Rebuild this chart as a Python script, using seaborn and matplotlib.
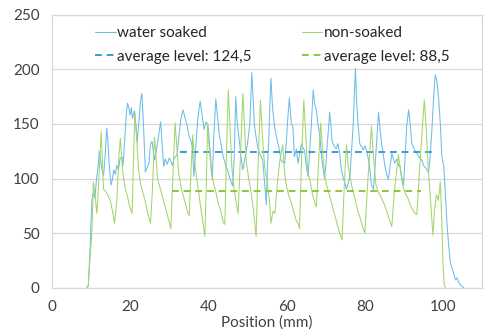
import numpy as np
import pandas as pd
import seaborn as sns
import matplotlib.pyplot as plt
from matplotlib.ticker import MultipleLocator

# ---------------------------------------------------------------------------- #
#                                   Data                                       #
# ---------------------------------------------------------------------------- #
water_pos = [8.8, 9.3, 9.8, 10.2, 10.6, 11.0, 11.4, 11.8, 12.1, 12.4, 12.8, 13.2, 13.6,
             14.0, 14.3, 14.6, 15.1, 15.5, 15.8, 16.2, 16.6, 17.0, 17.4, 17.9, 18.2,
             18.6, 19.0, 19.3, 19.6, 20.0, 20.3, 20.6, 21.1, 21.5, 21.8, 22.2, 22.6,
             23.0, 23.4, 23.9, 24.3, 24.8, 25.2, 25.6, 26.0, 26.3, 26.8, 27.3, 27.8,
             28.2, 28.6, 29.0, 29.5, 30.0, 30.3, 30.8, 31.2, 31.6, 32.0, 32.5, 33.0,
             33.5, 34.0, 34.6, 35.0, 35.5, 35.9, 36.3, 36.8, 37.3, 37.9, 38.4, 38.9,
             39.4, 39.9, 40.3, 40.6, 41.0, 41.4, 41.9, 42.4, 42.8, 43.2, 43.8, 44.5,
             44.9, 45.5, 46.2, 46.6, 47.0, 47.4, 47.9, 48.4, 48.8, 49.4, 50.0, 50.6,
             51.1, 51.5, 51.8, 52.2, 52.6, 53.2, 53.9, 54.4, 54.8, 55.1, 55.4, 55.7,
             56.0, 56.4, 56.9, 57.3, 57.8, 58.2, 58.6, 59.0, 59.5, 59.9, 60.3, 60.7,
             61.2, 61.6, 62.0, 62.5, 62.9, 63.3, 63.8, 64.2, 64.6, 65.0, 65.5, 65.9,
             66.3, 66.8, 67.2, 67.6, 68.0, 68.5, 69.0, 69.7, 70.1, 70.4, 70.7, 71.0,
             71.3, 71.6, 72.0, 72.3, 72.7, 73.1, 73.5, 74.0, 74.5, 75.0, 75.3, 75.8,
             76.2, 76.6, 77.0, 77.3, 77.6, 77.9, 78.3, 78.7, 79.2, 79.6, 80.0, 80.4,
             80.9, 81.3, 81.7, 82.2, 82.6, 83.0, 83.5, 83.9, 84.3, 84.8, 85.2, 85.6,
             86.0, 86.5, 86.9, 87.3, 87.7, 88.2, 88.6, 89.0, 89.5, 89.9, 90.3, 90.7,
             91.2, 91.6, 92.0, 92.5, 92.9, 93.3, 93.8, 94.2, 94.6, 95.0, 95.5, 95.9,
             96.3, 96.7, 97.2, 97.6, 98.0, 98.4, 98.9, 99.3, 99.7, 100.2, 100.6, 101.0,
             101.4, 101.9, 102.3, 102.7, 103.2, 103.6, 104.0, 104.6, 105.3]
water_val = [0, 2, 40, 80, 87, 82, 100, 110, 125, 118, 108, 103, 120,
             146, 135, 115, 94, 100, 108, 104, 112, 108, 118, 120, 112,
             135, 158, 169, 166, 158, 165, 155, 162, 148, 134, 150, 170,
             178, 150, 106, 110, 114, 132, 134, 122, 117, 128, 140, 152,
             130, 111, 118, 113, 119, 117, 112, 118, 120, 122, 140, 155,
             163, 156, 148, 140, 135, 129, 102, 130, 155, 171, 158, 145,
             152, 149, 130, 117, 99, 140, 173, 155, 140, 132, 120, 111,
             108, 100, 93, 120, 175, 150, 135, 118, 108, 120, 132, 150,
             197, 170, 148, 138, 129, 122, 117, 95, 76, 110, 132, 165,
             192, 165, 148, 140, 132, 125, 117, 115, 114, 132, 155, 174,
             150, 148, 120, 127, 114, 122, 132, 128, 126, 112, 102, 125,
             148, 181, 168, 163, 150, 139, 118, 100, 115, 132, 145, 161,
             150, 135, 131, 129, 127, 132, 125, 108, 100, 95, 90, 96,
             102, 125, 148, 175, 201, 170, 148, 132, 129, 126, 130, 126,
             118, 108, 94, 90, 110, 132, 161, 145, 132, 120, 110, 104,
             99, 112, 123, 118, 114, 118, 112, 111, 100, 94, 120, 148,
             163, 150, 132, 128, 125, 123, 120, 118, 117, 112, 110, 108,
             105, 120, 148, 175, 195, 190, 172, 150, 120, 111, 85, 59,
             40, 22, 18, 13, 7, 9, 5, 2, 0]

dry_pos = [8.8, 9.3, 9.7, 10.2, 10.6, 11.0, 11.5, 12.0, 12.6, 13.2, 13.8, 14.4, 14.9,
           15.5, 16.0, 16.6, 17.1, 17.5, 17.9, 18.3, 18.8, 19.3, 19.8, 20.5, 20.8,
           21.2, 21.6, 22.1, 22.6, 23.2, 23.8, 24.5, 25.2, 25.7, 26.2, 26.6, 27.0,
           27.6, 28.2, 28.8, 29.4, 30.0, 30.4, 30.9, 31.5, 31.9, 32.4, 33.0, 33.6,
           34.2, 34.8, 35.1, 35.6, 36.0, 36.4, 37.0, 37.6, 38.2, 38.7, 39.1, 39.5,
           39.8, 40.2, 40.8, 41.4, 42.0, 42.6, 43.2, 43.8, 44.2, 44.6, 45.1, 45.5,
           46.0, 46.6, 47.1, 47.6, 48.2, 48.8, 49.2, 49.7, 50.3, 50.9, 51.5, 52.2,
           52.7, 53.3, 53.8, 54.4, 55.0, 55.6, 56.0, 56.5, 57.0, 57.5, 58.2, 59.0,
           59.5, 60.0, 60.6, 61.2, 61.8, 62.4, 63.0, 63.3, 63.8, 64.4, 64.9, 65.4,
           66.0, 66.6, 67.2, 67.6, 68.1, 68.7, 69.2, 69.8, 70.4, 71.0, 71.6, 72.2,
           72.8, 73.4, 74.2, 74.7, 75.3, 75.8, 76.4, 77.0, 77.6, 78.2, 78.8, 79.4,
           80.0, 80.8, 81.7, 82.2, 82.8, 83.4, 84.0, 84.8, 85.6, 86.3, 86.9, 87.6,
           88.6, 89.2, 89.8, 90.4, 91.0, 91.6, 92.2, 92.8, 93.3, 94.2, 95.2, 95.7,
           96.2, 96.8, 97.4, 97.8, 98.3, 98.8, 99.3, 99.7, 100.0, 100.3, 100.6]
dry_val = [0, 1, 25, 50, 97, 85, 68, 100, 143, 90, 88, 84, 80,
           70, 59, 80, 120, 137, 115, 100, 90, 84, 75, 68, 110,
           160, 140, 110, 96, 88, 80, 68, 59, 90, 138, 120, 100,
           92, 84, 76, 68, 60, 54, 100, 151, 130, 105, 92, 84,
           76, 68, 66, 110, 140, 118, 100, 85, 70, 58, 47, 100,
           150, 128, 105, 95, 86, 76, 70, 60, 58, 120, 181, 150,
           110, 90, 78, 68, 120, 178, 150, 115, 100, 88, 72, 47,
           110, 172, 140, 110, 98, 80, 59, 70, 68, 90, 115, 131,
           105, 92, 84, 78, 70, 62, 58, 54, 115, 172, 140, 105,
           98, 86, 78, 74, 110, 151, 125, 100, 92, 84, 76, 68,
           60, 52, 44, 90, 131, 110, 98, 88, 80, 70, 64, 56,
           50, 100, 148, 120, 95, 88, 84, 78, 70, 62, 56, 90,
           122, 105, 92, 86, 82, 76, 72, 68, 67, 120, 172, 145,
           110, 80, 48, 70, 85, 80, 97, 60, 20, 3, 0]

labels = ["water soaked", "non-soaked"]
avg_water = 124.5
avg_dry = 88.5
avg_water_span = [32.7, 97.6]
avg_dry_span = [30.8, 94.3]

# ---------------------------------------------------------------------------- #
#                                   Plot                                       #
# ---------------------------------------------------------------------------- #
sns.set_style("white")
plt.rcParams['font.family'] = ['Lato', 'DejaVu Sans']
fs = 11

c_water = "#6DBDE9"
c_dry = "#A3D66A"
c_water_avg = "#3A9BD5"
c_dry_avg = "#8CC63F"
grid_c = "#D9D9D9"

fig = plt.figure(figsize=(4.9, 3.31), dpi=100)
ax = fig.add_axes([0.106, 0.131, 0.878, 0.824])

sns.lineplot(x=water_pos, y=water_val, ax=ax, color=c_water, lw=0.75,
             estimator=None, label=labels[0])
sns.lineplot(x=avg_water_span, y=[avg_water, avg_water], ax=ax, color=c_water_avg,
             lw=1.4, linestyle=(0, (3.5, 2.5)),
             label=f"average level: {str(avg_water).replace('.', ',')}")
sns.lineplot(x=dry_pos, y=dry_val, ax=ax, color=c_dry, lw=0.75,
             estimator=None, label=labels[1])
sns.lineplot(x=avg_dry_span, y=[avg_dry, avg_dry], ax=ax, color=c_dry_avg,
             lw=1.4, linestyle=(0, (3.5, 2.5)),
             label=f"average level: {str(avg_dry).replace('.', ',')}")

ax.set_xlim(0, 110)
ax.set_ylim(0, 250)
ax.xaxis.set_major_locator(MultipleLocator(20))
ax.xaxis.set_minor_locator(MultipleLocator(5))
ax.yaxis.set_major_locator(MultipleLocator(50))
ax.yaxis.set_minor_locator(MultipleLocator(25))
ax.yaxis.grid(True, which='major', color=grid_c, lw=0.9)
ax.set_axisbelow(True)

for s in ax.spines.values():
    s.set_color(grid_c)
    s.set_linewidth(0.9)

ax.tick_params(axis='both', which='both', direction='out', length=4, width=0.9,
               color="#BFBFBF", labelcolor="#404040", labelsize=fs)
ax.tick_params(axis='both', which='minor', labelleft=False, labelbottom=False)
ax.tick_params(axis='both', which='major', pad=5)
ax.set_xlabel("Position (mm)", color="#404040", fontsize=fs, labelpad=1)
ax.set_ylabel("")

handles, lbls = ax.get_legend_handles_labels()
ax.legend(handles, lbls, ncol=2, loc='upper left', bbox_to_anchor=(0.1, 0.958),
          frameon=False, handlelength=1.35, handletextpad=0.12,
          columnspacing=3.25, labelspacing=0.62, borderpad=0, borderaxespad=0,
          fontsize=fs, labelcolor="#262626")

fig.savefig("out.png", dpi=100)
